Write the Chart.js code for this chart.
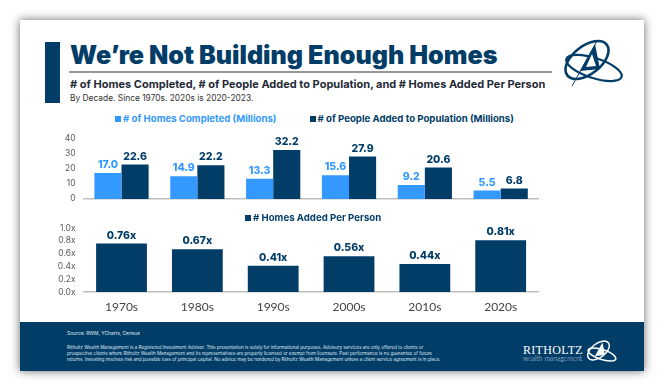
<!DOCTYPE html>
<html>
<head>
<meta charset="utf-8">
<script src="https://cdn.jsdelivr.net/npm/chart.js@4"></script>
<style>
  html, body { margin: 0; padding: 0; background: #fff; }
  body { width: 664px; height: 391px; overflow: hidden; position: relative; font-family: Inter, sans-serif; filter: blur(.35px); }
  #slide { position: absolute; left: 20px; top: 20px; width: 624px; height: 351px; background: #fff; box-shadow: 0 0 9px rgba(0,0,0,.6); }
  .abs { position: absolute; white-space: nowrap; }
  canvas { position: absolute; }
  .legend { position: absolute; white-space: nowrap; font: 700 9.65px Inter, sans-serif; height: 12px; line-height: 12px; }
  .legend i { display: inline-block; width: 6px; height: 6px; margin-right: 2px; vertical-align: 0; }
  .legend span { margin-right: 33px; }
  #footer { position: absolute; left: 20px; top: 322px; width: 624px; height: 49px; background: #023d68; }
</style>
</head>
<body>
<div id="slide"></div>
<div class="abs" style="left:44.5px;top:41.5px;width:15.5px;height:61px;background:#023d68"></div>
<div class="abs" id="title" style="left:70px;top:40px;font:900 25.1px/30px Inter,sans-serif;color:#023d68">We’re Not Building Enough Homes</div>
<div class="abs" style="left:69px;top:71px;width:483px;height:1.5px;background:#999"></div>
<div class="abs" style="left:70px;top:77px;font:700 11px/14px Inter,sans-serif;color:#1f2a37"># of Homes Completed, # of People Added to Population, and # Homes Added Per Person</div>
<div class="abs" style="left:70px;top:92px;font:400 8.4px/13px Inter,sans-serif;color:#333">By Decade. Since 1970s. 2020s is 2020-2023.</div>

<svg class="abs" style="left:562px;top:39px" width="62" height="52" viewBox="0 0 62 52">
  <g fill="none" stroke="#023d68">
    <ellipse cx="25" cy="21" rx="25" ry="14" transform="rotate(-38 25 21)" stroke-width="2.6"/>
    <ellipse cx="32" cy="29" rx="29" ry="10" transform="rotate(18 32 29)" stroke-width="2.2"/>
    <path d="M35 2 L10 47" stroke-width="1"/>
  </g>
  <path d="M33 5 L38 30 L18 32 Z" fill="#023d68"/>
  <path d="M30 15 L34 27 L24 28 Z" fill="#fff"/>
</svg>

<canvas id="grafico-homes" style="left:50px;top:125px"></canvas>
<canvas id="grafico-per-person" style="left:50px;top:215px"></canvas>
<div class="legend" id="legend-homes" style="left:115px;top:113px"></div>
<div class="legend" id="legend-per-person" style="left:245px;top:212px"></div>

<div id="footer"></div>
<div class="abs" style="left:67px;top:329.5px;font:400 4.9px/6px Inter,sans-serif;color:#dfe7ee">Source: RWM, YCharts, Census</div>
<div class="abs" style="left:67px;top:345px;font:400 4.55px/6px Inter,sans-serif;color:#dfe7ee">Ritholtz Wealth Management is a Registered Investment Adviser. This presentation is solely for informational purposes. Advisory services are only offered to clients or<br>prospective clients where Ritholtz Wealth Management and its representatives are properly licensed or exempt from licensure. Past performance is no guarantee of future<br>returns. Investing involves risk and possible loss of principal capital. No advice may be rendered by Ritholtz Wealth Management unless a client service agreement is in place.</div>
<div class="abs" style="left:523px;top:344px;font:400 12px/12px 'Liberation Serif',serif;letter-spacing:.3px;color:#fff">RITHOLTZ</div>
<div class="abs" style="left:523px;top:354px;font:300 6.8px/8px Lato,sans-serif;color:#cfdbe5">wealth management</div>
<svg class="abs" style="left:586px;top:340px" width="31" height="26" viewBox="0 0 62 52">
  <g fill="none" stroke="#fff">
    <ellipse cx="25" cy="21" rx="25" ry="14" transform="rotate(-38 25 21)" stroke-width="3"/>
    <ellipse cx="32" cy="29" rx="29" ry="10" transform="rotate(18 32 29)" stroke-width="3"/>
  </g>
  <path d="M33 5 L38 30 L18 32 Z" fill="#fff"/>
</svg>

<script>
// Dados
const decadas = ["1970s", "1980s", "1990s", "2000s", "2010s", "2020s"];
const homesCompleted = [17.0, 14.9, 13.3, 15.6, 9.2, 5.5];
const peopleAdded = [22.6, 22.2, 32.2, 27.9, 20.6, 6.8];
const homesPerPerson = [0.76, 0.67, 0.41, 0.56, 0.44, 0.81];

const AZUL = "#3399ff";
const AZUL_ESCURO = "#023d68";
const EIXO = "#bfbfbf";

// Rótulos de valor acima das barras
const rotulosPlugin = {
  id: "rotulos",
  afterDatasetsDraw(chart, args, opts) {
    const ctx = chart.ctx;
    ctx.save();
    ctx.font = "800 10.5px Inter, sans-serif";
    ctx.textAlign = "center";
    ctx.textBaseline = "middle";
    chart.data.datasets.forEach((ds, i) => {
      chart.getDatasetMeta(i).data.forEach((bar, j) => {
        ctx.fillStyle = ds.backgroundColor;
        ctx.fillText(opts.format(ds.data[j]), bar.x, bar.y - 8);
      });
    });
    ctx.restore();
  }
};

function opcoesBase(yMax, yStep, yFormat, xFit, xPadding, showX, padTop, format) {
  return {
    responsive: false,
    animation: false,
    layout: { padding: { top: padTop, bottom: 0, left: 0, right: 11.4 } },
    plugins: {
      legend: { display: false },
      tooltip: { enabled: false },
      rotulos: { format }
    },
    scales: {
      x: {
        afterFit: s => { s.height = xFit; },
        grid: { display: false, drawTicks: false },
        border: { color: EIXO, width: 1.5 },
        ticks: { display: showX, padding: xPadding, color: "#444", font: { family: "Lato", size: 12 }, maxRotation: 0 }
      },
      y: {
        min: 0,
        max: yMax,
        afterFit: s => { s.width = 33.6; },
        grid: { display: false, drawTicks: false },
        border: { display: false },
        ticks: { stepSize: yStep, autoSkip: false, padding: 8, color: "#595959", font: { family: "Inter", size: 8.5 }, callback: yFormat }
      }
    }
  };
}

function desenharGraficoHomes() {
  const canvas = document.getElementById("grafico-homes");
  canvas.width = 500;
  canvas.height = 87;
  new Chart(canvas, {
    type: "bar",
    data: {
      labels: decadas,
      datasets: [
        { label: "# of Homes Completed (Millions)", data: homesCompleted, backgroundColor: AZUL, categoryPercentage: 0.715, barPercentage: 1 },
        { label: "# of People Added to Population (Millions)", data: peopleAdded, backgroundColor: AZUL_ESCURO, categoryPercentage: 0.715, barPercentage: 1 }
      ]
    },
    options: opcoesBase(40, 10, v => v, 7, 0, false, 12.7, v => v.toFixed(1)),
    plugins: [rotulosPlugin]
  });
}

function desenharGraficoPerPerson() {
  const canvas = document.getElementById("grafico-per-person");
  canvas.width = 500;
  canvas.height = 100;
  new Chart(canvas, {
    type: "bar",
    data: {
      labels: decadas,
      datasets: [
        { label: "# Homes Added Per Person", data: homesPerPerson, backgroundColor: AZUL_ESCURO, categoryPercentage: 0.67, barPercentage: 1 }
      ]
    },
    options: opcoesBase(1, 0.2, v => v.toFixed(1) + "x", 23, 7.7, true, 10.7, v => v.toFixed(2) + "x"),
    plugins: [rotulosPlugin]
  });
}

// Legendas em HTML, montadas a partir dos nomes das séries
function legenda(id, itens) {
  document.getElementById(id).innerHTML = itens
    .map(it => `<span style="color:${it.cor}"><i style="background:${it.cor}"></i>${it.nome}</span>`)
    .join("");
}

desenharGraficoHomes();
desenharGraficoPerPerson();
legenda("legend-homes", [
  { nome: "# of Homes Completed (Millions)", cor: AZUL },
  { nome: "# of People Added to Population (Millions)", cor: AZUL_ESCURO }
]);
legenda("legend-per-person", [{ nome: "# Homes Added Per Person", cor: AZUL_ESCURO }]);
</script>
</body>
</html>
